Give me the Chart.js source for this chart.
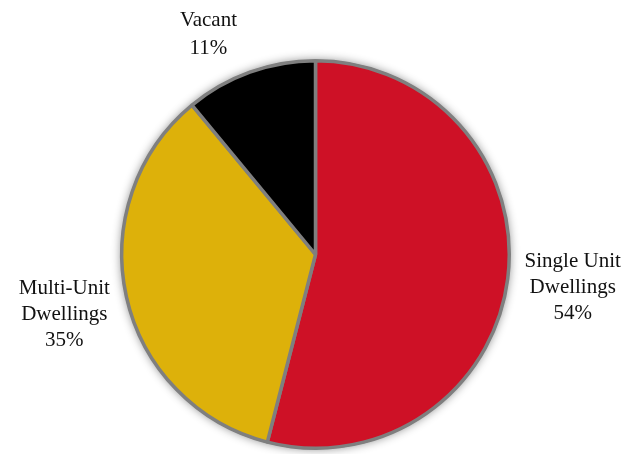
<!DOCTYPE html>
<html>
<head>
<meta charset="utf-8">
<script src="https://cdn.jsdelivr.net/npm/chart.js@4"></script>
<style>
  html, body { margin: 0; padding: 0; background: #fff; }
  #wrap { width: 631px; height: 454px; }
</style>
</head>
<body>
<div id="wrap"><canvas id="pieChart"></canvas></div>
<script>
const categories = [['Single Unit', 'Dwellings'], ['Multi-Unit', 'Dwellings'], ['Vacant']];
const shares = [54, 35, 11];
const sliceColors = ['#CE1126', '#DDB10A', '#000000'];

// soft shadow behind the whole pie
const pieShadow = {
  id: 'pieShadow',
  beforeDatasetsDraw(chart) {
    const arc = chart.getDatasetMeta(0).data[0];
    if (!arc) return;
    const ctx = chart.ctx;
    ctx.save();
    ctx.shadowColor = 'rgba(0,0,0,0.45)';
    ctx.shadowBlur = 10;
    ctx.beginPath();
    ctx.arc(arc.x, arc.y, arc.outerRadius + 1, 0, Math.PI * 2);
    ctx.fillStyle = '#888';
    ctx.fill();
    ctx.restore();
  }
};

// labels outside each slice, like the "outside end" labels of the original
const outsideLabels = {
  id: 'outsideLabels',
  afterDatasetsDraw(chart) {
    const ctx = chart.ctx;
    const meta = chart.getDatasetMeta(0);
    const fontSize = 21, lineH = 26;
    ctx.save();
    ctx.font = fontSize + 'px "Liberation Serif", "DejaVu Serif", serif';
    ctx.fillStyle = '#111';
    ctx.textBaseline = 'middle';
    meta.data.forEach((arc, i) => {
      const lines = categories[i].concat([shares[i] + '%']);
      const mid = (arc.startAngle + arc.endAngle) / 2;
      const dx = Math.cos(mid), dy = Math.sin(mid);
      const r = arc.outerRadius + (Math.abs(dx) > 0.8 ? 17 : 12);
      const ax = arc.x + dx * r, ay = arc.y + dy * r;
      const w = Math.max(...lines.map(l => ctx.measureText(l).width));
      const h = lines.length * lineH;
      const hw = w / 2, hh = h / 2;
      const t = Math.min(Math.abs(dx) > 1e-6 ? hw / Math.abs(dx) : Infinity,
                         Math.abs(dy) > 1e-6 ? hh / Math.abs(dy) : Infinity);
      let cx = ax + dx * t, cy = ay + dy * t;
      if (dy < -0.8) cx -= 28; // top label sits a bit to the left
      if (dx < -0.8) cy += 4;
      const lh = lines.length < 3 ? 28 : lineH;
      ctx.textAlign = 'center';
      lines.forEach((l, k) => {
        ctx.fillText(l, cx, cy - (lines.length - 1) * lh / 2 + k * lh);
      });
    });
    ctx.restore();
  }
};

new Chart(document.getElementById('pieChart'), {
  type: 'pie',
  data: {
    labels: categories.map(c => c.join(' ')),
    datasets: [{
      data: shares,
      backgroundColor: sliceColors,
      borderColor: '#7F7F7F',
      borderWidth: 3.5
    }]
  },
  options: {
    responsive: true,
    maintainAspectRatio: false,
    animation: false,
    layout: { padding: { top: 59, bottom: 4, left: 0, right: 0 } },
    plugins: {
      legend: { display: false },
      tooltip: { enabled: false }
    }
  },
  plugins: [pieShadow, outsideLabels]
});
</script>
</body>
</html>
